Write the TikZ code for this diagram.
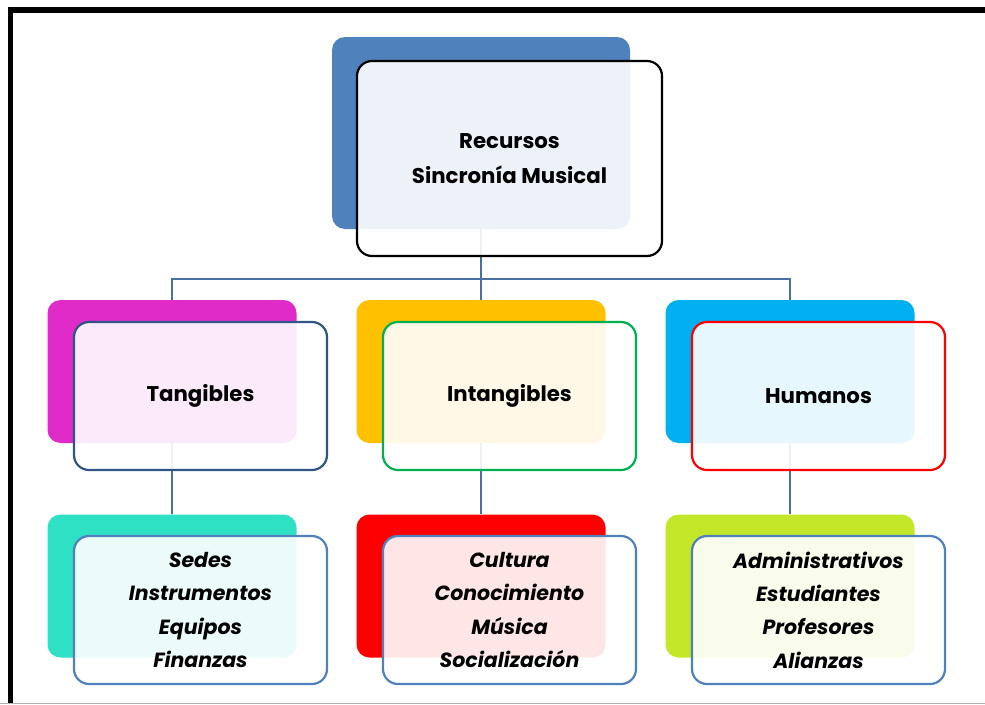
\documentclass[tikz,border=0pt]{standalone}
\usepackage{fontspec}
\setmainfont{Poppins}
\usetikzlibrary{positioning}

\definecolor{linkblue}{HTML}{4A6FA5}
\definecolor{topblue}{HTML}{4F81BD}
\definecolor{magen}{HTML}{E02BC8}
\definecolor{amber}{HTML}{FFC000}
\definecolor{skyb}{HTML}{00B0F0}
\definecolor{teal}{HTML}{2EE0C4}
\definecolor{lime}{HTML}{C3E829}
\definecolor{navy}{HTML}{2F5587}
\definecolor{grn}{HTML}{00B050}

\begin{document}
\begin{tikzpicture}[x=1pt, y=-1pt,
  back/.style={rounded corners=13pt, minimum width=249pt, minimum height=143pt, inner sep=0pt},
  front/.style={draw, line width=2.2pt, rounded corners=15pt, fill=white, fill opacity=0.9, text opacity=1,
    minimum width=253pt, minimum height=148pt, inner sep=0pt, align=center},
  title/.style={font=\bfseries\fontsize{21.3}{35}\selectfont},
  items/.style={font=\bfseries\itshape\fontsize{20.5}{33.3}\selectfont},
  link/.style={draw=linkblue, line width=2.8pt}
]
\useasboundingbox (0,0) rectangle (985,704);

% frame
\draw[line width=5.5pt] (10.5,704) -- (10.5,10) -- (985,10);
\draw[black!30, line width=1pt] (0,703) -- (985,703);

% back boxes
\node[back, fill=topblue, minimum width=298pt, minimum height=192pt] (recB) at (481,133) {};
\node[back, fill=magen] (tanB) at (172,371.5) {};
\node[back, fill=amber] (intB) at (481,371.5) {};
\node[back, fill=skyb]  (humB) at (790,371.5) {};
\node[back, fill=teal]  (tanLB) at (172,586) {};
\node[back, fill=red]   (intLB) at (481,586) {};
\node[back, fill=lime]  (humLB) at (790,586) {};

% connectors
\coordinate (hub) at (481,279);
\draw[link] (recB.south) -- (hub);
\draw[link] (tanB.north) |- (hub) -| (humB.north);
\draw[link] (hub) -- (intB.north);
\draw[link] (tanB.south) -- (tanLB.north);
\draw[link] (intB.south) -- (intLB.north);
\draw[link] (humB.south) -- (humLB.north);

% front boxes
\node[front, title, draw=black, minimum width=305pt, minimum height=195pt] (rec) at (509.5,158.5) {Recursos\\Sincronía Musical};
\node[front, title, draw=navy] (tan) at (200.5,396) {Tangibles};
\node[front, title, draw=grn]  (int) at (509.5,396) {Intangibles};
\node[front, title, draw=red]  (hum) at (818.5,396) {Humanos};
\node[front, items, draw=topblue] (tanL) at (200.5,610) {Sedes\\Instrumentos\\Equipos\\Finanzas};
\node[front, items, draw=topblue] (intL) at (509.5,610) {Cultura\\Conocimiento\\Música\\Socialización};
\node[front, items, draw=topblue] (humL) at (818.5,610) {Administrativos\\Estudiantes\\Profesores\\Alianzas};

\end{tikzpicture}
\end{document}
